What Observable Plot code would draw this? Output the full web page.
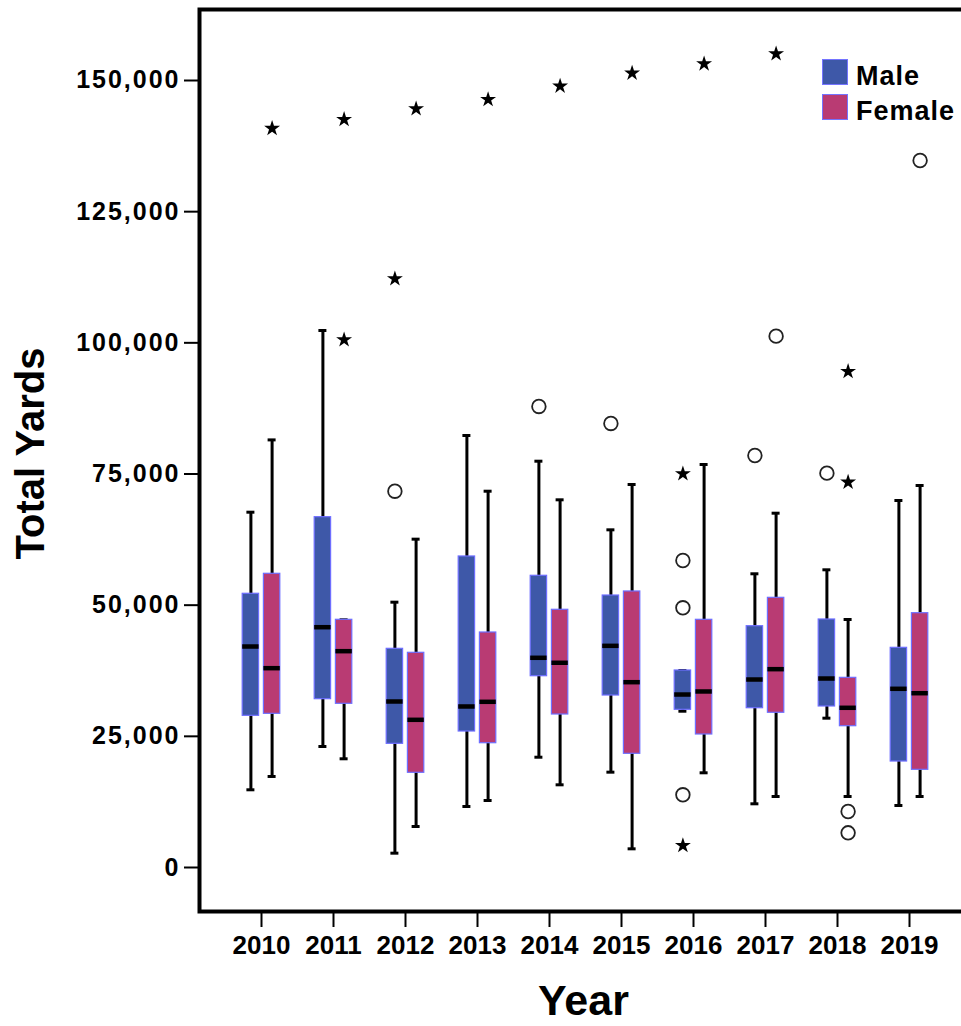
<!DOCTYPE html>
<html>
<head>
<meta charset="utf-8">
<script src="https://cdn.jsdelivr.net/npm/d3@7"></script>
<script src="https://cdn.jsdelivr.net/npm/@observablehq/plot@0.6"></script>
<style>
  body { margin: 0; background: #fff; }
  #wrap { position: relative; width: 961px; height: 1026px; overflow: hidden; background: #fff;
          font-family: "Liberation Sans", Arial, sans-serif; }
  #wrap svg { font-family: "Liberation Sans", Arial, sans-serif; }
  g[aria-label="y-axis tick label"] { letter-spacing: 2px; font-weight: bold; }
  g[aria-label="x-axis tick label"] { font-weight: bold; }
  #legend { position: absolute; left: 822px; top: 59px; }
  .item { position: absolute; left: 0; display: flex; align-items: flex-start; white-space: nowrap; }
  .sw { width: 24px; height: 24px; border: 1.5px solid #7474ff; box-sizing: content-box; }
  .lab { font-size: 27px; font-weight: bold; line-height: 26px; margin-left: 8px; position: relative; top: 4px; letter-spacing: 1px; color: #000; }
</style>
</head>
<body>
<div id="wrap">
  <div id="chart"></div>
  <div id="legend"></div>
</div>
<script>
// ---- data ----
const years = ["2010", "2011", "2012", "2013", "2014", "2015", "2016", "2017", "2018", "2019"];
const sexes = ["Male", "Female"];

const maleLow    = [14810, 23060,  2730, 11630, 21020, 18170, 29790, 12140, 28460, 11820];
const maleQ1     = [28910, 32080, 23570, 25920, 36460, 32780, 30060, 30360, 30690, 20200];
const maleMedian = [42120, 45800, 31640, 30690, 39970, 42250, 32970, 35830, 36020, 34060];
const maleQ3     = [52170, 66770, 41680, 59280, 55600, 51840, 37550, 45990, 47270, 41870];
const maleHigh   = [67720, 102350, 50570, 82340, 77440, 64360, 37550, 55980, 56740, 69950];

const femaleLow    = [17350, 20720,  7810, 12770, 15760,  3560, 18050, 13530, 13530, 13530];
const femaleQ1     = [29290, 31200, 18050, 23690, 29160, 21670, 25350, 29490, 26930, 18620];
const femaleMedian = [37990, 41230, 28150, 31580, 39020, 35320, 33550, 37800, 30440, 33220];
const femaleQ3     = [55980, 47210, 40920, 44790, 49120, 52610, 47210, 51400, 36150, 48470];
const femaleHigh   = [81500, 47210, 62580, 71720, 70080, 73000, 76810, 67530, 47270, 72810];

const outlierYear  = ["2012", "2012", "2014", "2015", "2016", "2016", "2016", "2016", "2016", "2017", "2018",
                      "2010", "2011", "2011", "2012", "2013", "2014", "2015", "2016", "2017", "2017", "2018", "2018", "2018", "2018", "2019"];
const outlierSex   = ["Male", "Male", "Male", "Male", "Male", "Male", "Male", "Male", "Male", "Male", "Male",
                      "Female", "Female", "Female", "Female", "Female", "Female", "Female", "Female", "Female", "Female", "Female", "Female", "Female", "Female", "Female"];
const outlierValue = [71720, 112210, 87870, 84630, 75040, 58510, 49500, 13860, 4190, 78530, 75160,
                      140860, 142570, 100580, 144600, 146380, 148920, 151400, 153170, 155080, 101270, 94540, 73440, 10670, 6610, 134750];
const outlierKind  = ["circle", "star", "circle", "circle", "star", "circle", "circle", "circle", "star", "circle", "circle",
                      "star", "star", "star", "star", "star", "star", "star", "star", "star", "circle", "star", "star", "circle", "circle", "circle"];

const yTicks = [0, 25000, 50000, 75000, 100000, 125000, 150000];
const colors = ["#3e58a8", "#b93b73"];

// ---- tables built from the arrays ----
const stats = {
  Male: {low: maleLow, q1: maleQ1, median: maleMedian, q3: maleQ3, high: maleHigh},
  Female: {low: femaleLow, q1: femaleQ1, median: femaleMedian, q3: femaleQ3, high: femaleHigh}
};
const boxes = sexes.flatMap(s => years.map((year, i) => ({
  year, sex: s,
  low: stats[s].low[i], q1: stats[s].q1[i], median: stats[s].median[i], q3: stats[s].q3[i], high: stats[s].high[i]
})));
const outliers = outlierYear.map((year, i) => ({year, sex: outlierSex[i], value: outlierValue[i], kind: outlierKind[i]}));

const offset = {Male: -10.6, Female: 10.6};
const fillOf = {Male: colors[0], Female: colors[1]};
const boxInset = 27.8;
const capInset = 32;

const marks = [];
for (const s of sexes) {
  const rows = boxes.filter(d => d.sex === s);
  const dx = offset[s];
  marks.push(
    Plot.ruleX(rows, {x: "year", y1: "low", y2: "high", stroke: "#000", strokeWidth: 3, dx}),
    Plot.tickY(rows, {x: "year", y: "low", stroke: "#000", strokeWidth: 3, insetLeft: capInset, insetRight: capInset, dx}),
    Plot.tickY(rows, {x: "year", y: "high", stroke: "#000", strokeWidth: 3, insetLeft: capInset, insetRight: capInset, dx}),
    Plot.barY(rows, {x: "year", y1: "q1", y2: "q3", fill: fillOf[s], stroke: "#6e6eff", strokeWidth: 1.2,
                     insetLeft: boxInset, insetRight: boxInset, dx}),
    Plot.tickY(rows, {x: "year", y: "median", stroke: "#000", strokeWidth: 4.5, insetLeft: boxInset, insetRight: boxInset, dx}),
    Plot.dot(outliers.filter(d => d.sex === s && d.kind === "circle"),
             {x: "year", y: "value", r: 6.8, stroke: "#222", strokeWidth: 1.8, fill: "none", dx}),
    Plot.dot(outliers.filter(d => d.sex === s && d.kind === "star"),
             {x: "year", y: "value", symbol: "star", r: 5, fill: "#000", stroke: "none", dx})
  );
}

const chart = Plot.plot({
  width: 961,
  height: 1026,
  marginLeft: 199,
  marginRight: -10,
  marginTop: 9,
  marginBottom: 115,
  style: {fontFamily: "'Liberation Sans', Arial, sans-serif", background: "#fff", color: "#000"},
  x: {type: "band", domain: years, paddingInner: 0, paddingOuter: 0.356, label: null},
  y: {domain: [-8386, 163532], label: null},
  marks: [
    Plot.axisY({ticks: yTicks, tickFormat: d3.format(","), tickSize: 15, tickPadding: 4, fontSize: 25,
                fontWeight: "bold", strokeWidth: 2, label: null}),
    Plot.axisX({tickSize: 16, tickPadding: 8, fontSize: 26, fontWeight: "bold", strokeWidth: 2, label: null}),
    ...marks,
    Plot.frame({stroke: "#000", strokeWidth: 4}),
    Plot.text(["Total Yards"], {text: d => d, frameAnchor: "left", textAnchor: "middle", lineAnchor: "middle",
                                dx: -168, dy: -7, rotate: -90, fontSize: 40, fontWeight: "bold", fill: "#000"}),
    Plot.text(["Year"], {text: d => d, frameAnchor: "bottom", dx: -2, dy: 103, fontSize: 43, fontWeight: "bold", fill: "#000"})
  ]
});
document.getElementById("chart").appendChild(chart);

// legend
const legend = document.getElementById("legend");
sexes.forEach((s, i) => {
  const item = document.createElement("div");
  item.className = "item";
  item.style.top = (i * 35) + "px";
  const sw = document.createElement("div");
  sw.className = "sw";
  sw.style.background = fillOf[s];
  const lab = document.createElement("span");
  lab.className = "lab";
  lab.textContent = s;
  item.appendChild(sw);
  item.appendChild(lab);
  legend.appendChild(item);
});
</script>
</body>
</html>
